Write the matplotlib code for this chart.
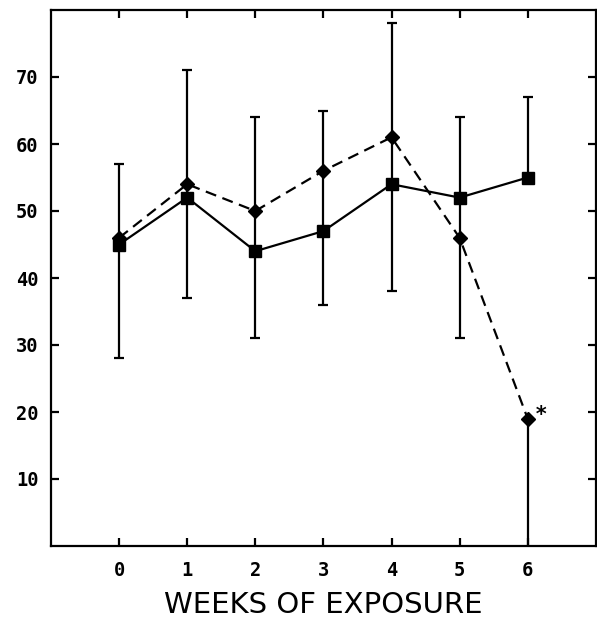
import matplotlib
matplotlib.use("Agg")
import matplotlib.pyplot as plt

weeks = [0, 1, 2, 3, 4, 5, 6]
control_mean = [45, 52, 44, 47, 54, 52, 55]
exposed_mean = [46, 54, 50, 56, 61, 46, 19]
bar_low = [28, 37, 31, 36, 38, 31, 0]
bar_high = [57, 71, 64, 65, 78, 64, 67]
bars_joined = [True, True, True, True, True, True, False]
x_ticks = [0, 1, 2, 3, 4, 5, 6]
y_ticks = [10, 20, 30, 40, 50, 60, 70]
x_label = "WEEKS OF EXPOSURE"
signif_mark = "*"
signif_week = 6

fig = plt.figure(figsize=(5.97, 6.22), dpi=100)
ax = fig.add_axes([51/597, 1-546/622, 1-51/597-0.002, (546-10)/622])

lw = 1.6
k = "black"
for x, lo, hi, a, b, j in zip(weeks, bar_low, bar_high, control_mean, exposed_mean, bars_joined):
    m_lo, m_hi = min(a, b), max(a, b)
    if j:
        ax.vlines(x, lo, hi, color=k, lw=lw, zorder=2)
    else:
        ax.vlines(x, lo, m_lo, color=k, lw=lw, zorder=2)
        ax.vlines(x, m_hi, hi, color=k, lw=lw, zorder=2)
caps_x = [x for x, lo in zip(weeks, bar_low) if lo > 0] + list(weeks)
caps_y = [lo for lo in bar_low if lo > 0] + list(bar_high)
ax.plot(caps_x, caps_y, ls="none", marker="_", ms=7, mew=lw, color=k, zorder=2)

ax.plot(weeks, control_mean, color=k, lw=lw, marker="s", ms=8.5, zorder=3)
ax.plot(weeks, exposed_mean, color=k, lw=lw, ls=(0, (5, 3)), marker="D", ms=7, zorder=3)

ax.text(signif_week + 0.19, exposed_mean[weeks.index(signif_week)] - 0.3, signif_mark,
        fontsize=15, fontweight="bold", ha="center", va="baseline", family="DejaVu Sans Mono")

ax.set_xlim(-1, 7)
ax.set_ylim(0, 80)
ax.set_xticks(x_ticks)
ax.set_yticks(y_ticks)
ax.set_xticklabels([str(t) for t in x_ticks], family="DejaVu Sans Mono", fontweight="bold", fontsize=13.5)
ax.set_yticklabels([str(t) for t in y_ticks], family="DejaVu Sans Mono", fontweight="bold", fontsize=13.5)
ax.tick_params(direction="in", length=6, width=1.6, top=True, right=True, color=k)
ax.tick_params(axis="y", pad=9)
ax.tick_params(axis="x", pad=11)
for s in ax.spines.values():
    s.set_linewidth(1.6)
ax.set_xlabel(x_label, fontsize=21, family="DejaVu Sans", labelpad=8)

fig.savefig("out.png", dpi=100)
